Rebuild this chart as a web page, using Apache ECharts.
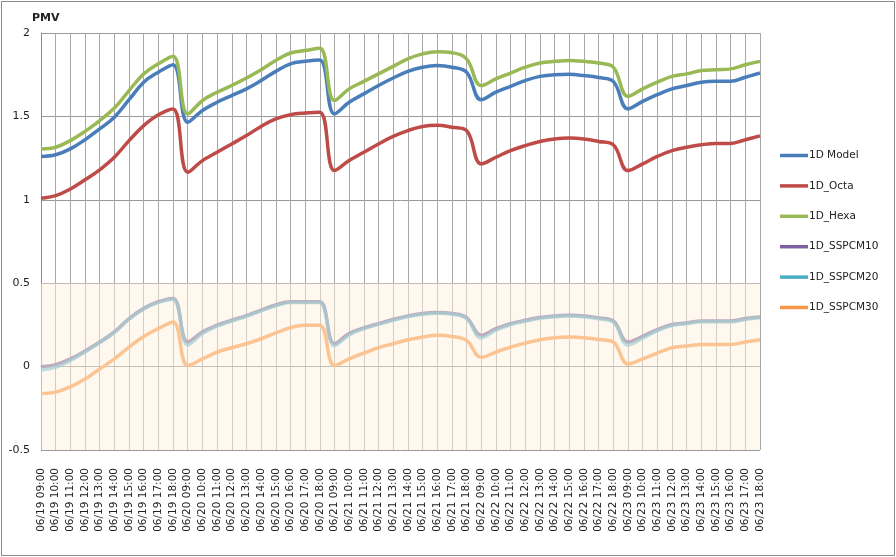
<!DOCTYPE html>
<html>
<head>
<meta charset="utf-8">
<script src="https://cdn.jsdelivr.net/npm/echarts@6/dist/echarts.min.js"></script>
<style>
  html, body { margin: 0; padding: 0; background: #fff; }
  #wrap { position: relative; width: 896px; height: 557px; }
  #chart { position: absolute; left: 0; top: 0; width: 896px; height: 557px; }
  #frame { position: absolute; left: 1px; top: 1px; width: 892px; height: 553px; border: 1px solid #8a8a8a; pointer-events: none; }
</style>
</head>
<body>
<div id="wrap"><div id="chart"></div><div id="frame"></div></div>
<script>
const days = ['06/19', '06/20', '06/21', '06/22', '06/23'];
const hours = ['09:00', '10:00', '11:00', '12:00', '13:00', '14:00', '15:00', '16:00', '17:00', '18:00'];
const categories = [];
days.forEach(d => hours.forEach(h => categories.push(d + ' ' + h)));

const seriesNames = ['1D Model', '1D_Octa', '1D_Hexa', '1D_SSPCM10', '1D_SSPCM20', '1D_SSPCM30'];
const seriesColors = ['#4A7EBB', '#BE4B48', '#98B954', '#7D60A0', '#4BACC6', '#F79646'];

const model1D = [1.26,1.27,1.305,1.36,1.425,1.495,1.60,1.705,1.765,1.81,
  1.465,1.535,1.585,1.625,1.665,1.715,1.77,1.815,1.83,1.838,
  1.515,1.585,1.635,1.685,1.73,1.77,1.795,1.805,1.795,1.765,
  1.60,1.645,1.68,1.715,1.74,1.75,1.752,1.745,1.733,1.71,
  1.545,1.59,1.63,1.665,1.685,1.705,1.71,1.71,1.735,1.76];
const octa1D = [1.01,1.025,1.065,1.12,1.18,1.255,1.355,1.445,1.51,1.545,
  1.165,1.235,1.285,1.335,1.385,1.44,1.485,1.51,1.52,1.525,
  1.175,1.235,1.285,1.335,1.38,1.415,1.44,1.447,1.435,1.415,
  1.215,1.255,1.295,1.325,1.35,1.365,1.37,1.365,1.35,1.33,
  1.175,1.215,1.26,1.295,1.315,1.33,1.338,1.338,1.36,1.383];
const hexa1D = [1.305,1.315,1.355,1.41,1.475,1.55,1.655,1.755,1.815,1.86,
  1.515,1.595,1.645,1.685,1.73,1.78,1.835,1.88,1.895,1.908,
  1.595,1.665,1.71,1.755,1.80,1.845,1.875,1.888,1.882,1.845,
  1.685,1.725,1.76,1.795,1.82,1.83,1.835,1.83,1.82,1.795,
  1.62,1.665,1.705,1.74,1.755,1.775,1.78,1.785,1.81,1.83];
const sspcm10 = [0.000,0.012,0.046,0.093,0.147,0.208,0.288,0.349,0.389,0.409,
  0.147,0.208,0.248,0.278,0.306,0.339,0.369,0.389,0.389,0.389,
  0.137,0.198,0.232,0.258,0.282,0.304,0.319,0.325,0.319,0.294,
  0.188,0.228,0.258,0.278,0.294,0.304,0.308,0.304,0.292,0.274,
  0.147,0.181,0.222,0.252,0.262,0.274,0.274,0.274,0.288,0.298];
const sspcm20 = [-0.020,-0.003,0.036,0.087,0.142,0.204,0.284,0.345,0.385,0.404,
  0.130,0.198,0.242,0.273,0.301,0.334,0.364,0.384,0.384,0.384,
  0.125,0.190,0.226,0.253,0.277,0.299,0.314,0.320,0.314,0.288,
  0.172,0.218,0.251,0.272,0.289,0.299,0.303,0.299,0.286,0.267,
  0.130,0.170,0.214,0.246,0.257,0.269,0.269,0.269,0.283,0.293];
const sspcm30 = [-0.161,-0.153,-0.121,-0.075,-0.014,0.046,0.117,0.181,0.228,0.268,
  0.006,0.046,0.087,0.113,0.137,0.167,0.202,0.234,0.248,0.248,
  0.006,0.046,0.081,0.113,0.137,0.161,0.177,0.188,0.181,0.157,
  0.056,0.087,0.117,0.141,0.161,0.173,0.177,0.173,0.163,0.147,
  0.016,0.046,0.081,0.113,0.123,0.133,0.133,0.133,0.147,0.161];

const bandRange = [-0.5, 0.5];
const yTicks = { min: -0.5, max: 2, interval: 0.5 };

const allData = [model1D, octa1D, hexa1D, sspcm10, sspcm20, sspcm30];
const lineOpacity = [1, 1, 1, 1, 0.7, 1];

const chart = echarts.init(document.getElementById('chart'), null, { renderer: 'canvas' });

const lineSeries = seriesNames.map((name, i) => ({
  name: name,
  type: 'line',
  data: allData[i],
  smooth: 0.4,
  symbol: 'none',
  z: 2,
  lineStyle: { width: 3.5, color: seriesColors[i], opacity: lineOpacity[i] },
  itemStyle: { color: seriesColors[i] }
}));

const bandSeries = {
  type: 'custom',
  name: 'band',
  z: 5,
  silent: true,
  data: [[0]],
  renderItem: function (params, api) {
    const p1 = api.coord([0, bandRange[1]]);
    const p2 = api.coord([categories.length - 1, bandRange[0]]);
    return {
      type: 'rect',
      shape: { x: p1[0], y: p1[1], width: p2[0] - p1[0], height: p2[1] - p1[1] },
      style: { fill: 'rgba(255,242,222,0.5)' }
    };
  }
};

chart.setOption({
  animation: false,
  title: {
    text: 'PMV', left: 27, top: 8,
    textStyle: { fontFamily: 'DejaVu Sans', fontSize: 11, fontWeight: 'bold', color: '#222' }
  },
  legend: {
    orient: 'vertical',
    left: 775, top: 145,
    itemWidth: 28, itemHeight: 14, itemGap: 19.4,
    data: seriesNames.map(n => ({ name: n, icon: 'path://M0,0 L28,0 L28,3.5 L0,3.5 Z' })),
    textStyle: { fontFamily: 'DejaVu Sans', fontSize: 10.5, color: '#222', padding: [0, 0, 0, -4] }
  },
  grid: { left: 41, right: 136, top: 33, bottom: 107, containLabel: false },
  xAxis: {
    type: 'category',
    data: categories,
    boundaryGap: false,
    axisLine: { show: true, lineStyle: { color: '#8c8c8c', width: 1 } },
    axisTick: { show: false },
    axisLabel: { interval: 0, rotate: 90, margin: 18, fontFamily: 'DejaVu Sans', fontSize: 10.5, color: '#222' },
    splitLine: { show: true, interval: 0, lineStyle: { color: '#a8a8a8', width: 1 } }
  },
  yAxis: {
    type: 'value',
    min: yTicks.min, max: yTicks.max, interval: yTicks.interval,
    axisLine: { show: true, lineStyle: { color: '#8c8c8c', width: 1 } },
    axisTick: { show: false },
    axisLabel: { margin: 11, fontFamily: 'DejaVu Sans', fontSize: 11, color: '#222' },
    splitLine: { show: true, lineStyle: { color: '#9a9a9a', width: 1 } }
  },
  series: lineSeries.concat([bandSeries])
});
</script>
</body>
</html>
